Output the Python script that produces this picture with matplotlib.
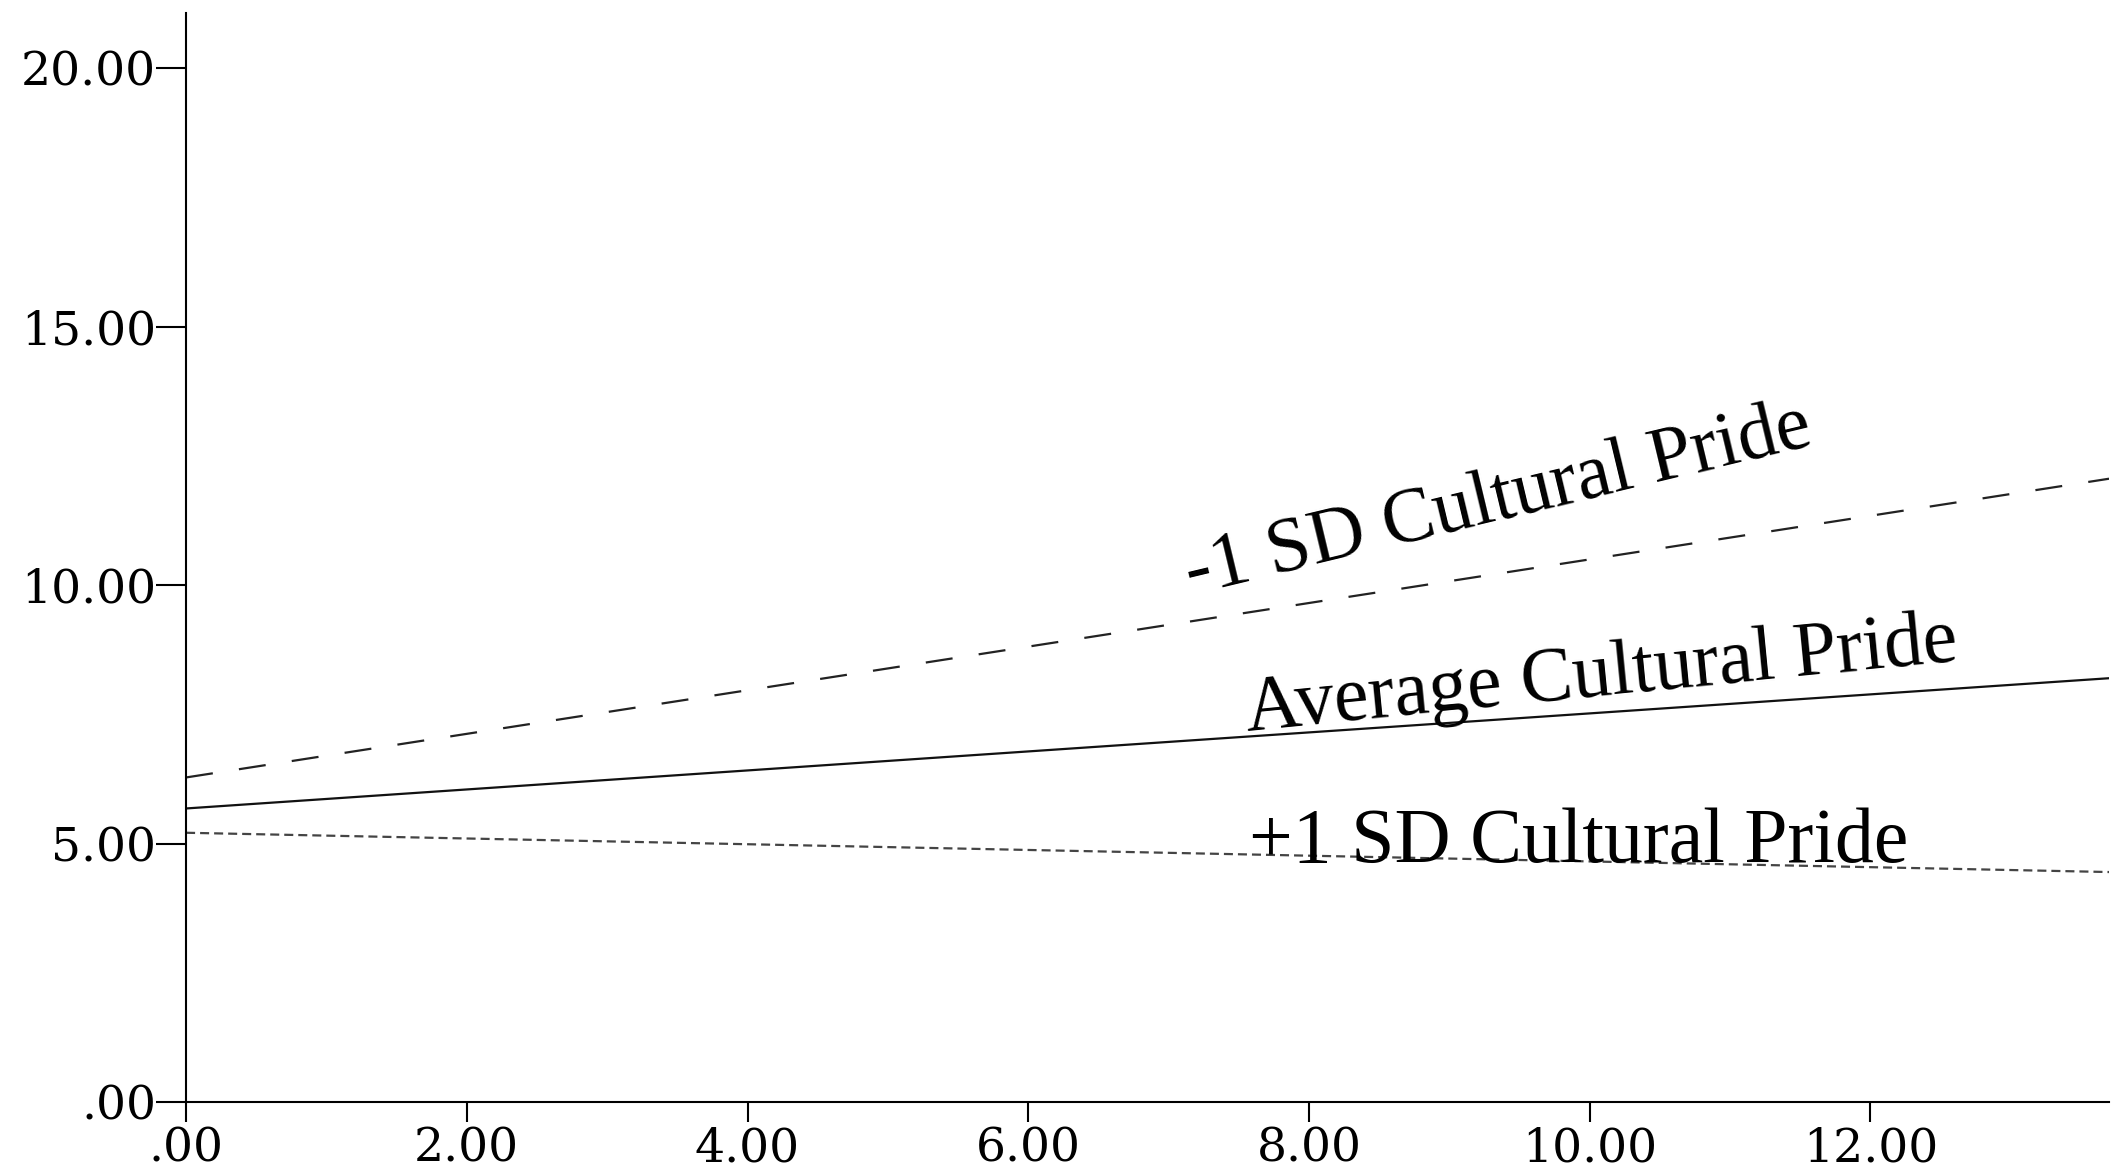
import matplotlib
matplotlib.use('Agg')
import matplotlib.pyplot as plt

# simple slopes: predicted value at the two ends of the x range
x_ends = [0.0, 13.7]
low_pride = [6.28, 12.06]     # -1 SD
avg_pride = [5.68, 8.20]      # mean
high_pride = [5.21, 4.45]     # +1 SD

x_ticks = [0, 2, 4, 6, 8, 10, 12]
x_labels = ['.00', '2.00', '4.00', '6.00', '8.00', '10.00', '12.00']
y_ticks = [0, 5, 10, 15, 20]
y_labels = ['.00', '5.00', '10.00', '15.00', '20.00']

labels = ['-1 SD Cultural Pride', 'Average Cultural Pride', '+1 SD Cultural Pride']
label_xy = [(7.16, 9.83), (7.56, 7.19), (7.57, 4.64)]
label_rot = [13.5, 5.6, 0]

plt.rcParams['lines.scale_dashes'] = False

fig = plt.figure(figsize=(21.12, 11.75), dpi=100)
ax = fig.add_axes([0.0881, 0.0621, 0.9105, 0.9268])

ax.plot(x_ends, low_pride, color='#222222', lw=1.6, dashes=(19.5, 19))
ax.plot(x_ends, avg_pride, color='#111111', lw=1.6)
ax.plot(x_ends, high_pride, color='#444444', lw=1.6, dashes=(6.5, 3.6))

for txt, (tx, ty), rot in zip(labels, label_xy, label_rot):
    ax.text(tx, ty, txt, rotation=rot, rotation_mode='anchor', ha='left', va='baseline',
            fontsize=56, family='Liberation Serif', color='black')

ax.set_xlim(0, 13.7)
ax.set_ylim(0, 21.07)
ax.set_xticks(x_ticks)
ax.set_xticklabels(x_labels)
ax.set_yticks(y_ticks)
ax.set_yticklabels(y_labels)

for sp in ['top', 'right']:
    ax.spines[sp].set_visible(False)
for sp in ['left', 'bottom']:
    ax.spines[sp].set_linewidth(1.5)

ax.tick_params(axis='x', length=14.4, width=1.5, pad=3, labelsize=34)
ax.tick_params(axis='y', length=21.6, width=1.5, pad=0, labelsize=34)
for lab in ax.get_xticklabels() + ax.get_yticklabels():
    lab.set_family('DejaVu Serif')

fig.savefig('out.png', dpi=100)
